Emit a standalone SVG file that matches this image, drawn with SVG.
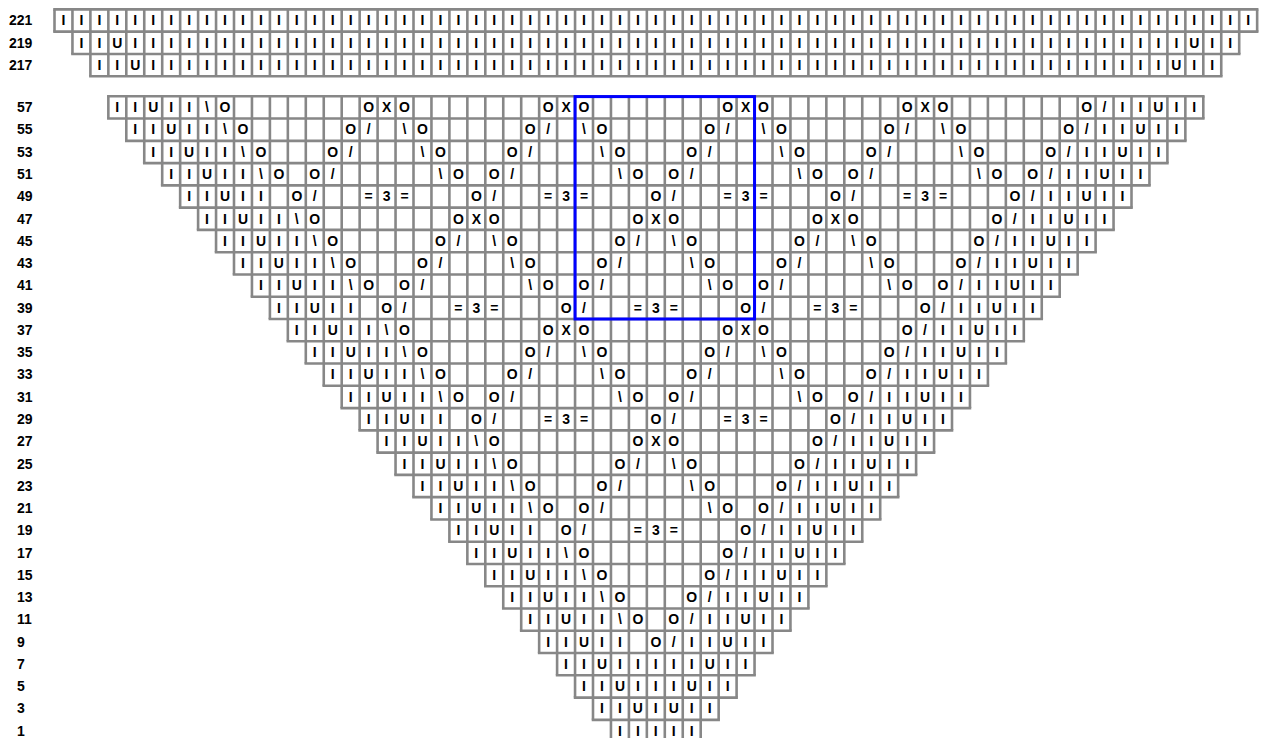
<svg xmlns="http://www.w3.org/2000/svg" width="1268" height="738" viewBox="0 0 1268 738">
<style>
.h{fill:none;stroke:#878787;stroke-width:2.6;stroke-linecap:square}
.v{fill:none;stroke:#878787;stroke-width:22.27;stroke-dasharray:2.6 15.4}
text{font-family:"Liberation Sans",Arial,Helvetica,sans-serif;font-weight:bold;font-size:14px;fill:#000}
.c{text-anchor:middle}
.rep{fill:none;stroke:#0000ff;stroke-width:3}
</style>
<rect width="1268" height="738" fill="#fff"/>
<g id="row-labels" transform="translate(0,0.7)">
<text x="9" y="24.6">221</text>
<text x="9" y="46.87">219</text>
<text x="9" y="69.14">217</text>
<text x="17" y="111.5">57</text>
<text x="17" y="133.77">55</text>
<text x="17" y="156.04">53</text>
<text x="17" y="178.31">51</text>
<text x="17" y="200.58">49</text>
<text x="17" y="222.85">47</text>
<text x="17" y="245.12">45</text>
<text x="17" y="267.39">43</text>
<text x="17" y="289.66">41</text>
<text x="17" y="311.93">39</text>
<text x="17" y="334.2">37</text>
<text x="17" y="356.47">35</text>
<text x="17" y="378.74">33</text>
<text x="17" y="401.01">31</text>
<text x="17" y="423.28">29</text>
<text x="17" y="445.55">27</text>
<text x="17" y="467.82">25</text>
<text x="17" y="490.09">23</text>
<text x="17" y="512.36">21</text>
<text x="17" y="534.63">19</text>
<text x="17" y="556.9">17</text>
<text x="17" y="579.17">15</text>
<text x="17" y="601.44">13</text>
<text x="17" y="623.71">11</text>
<text x="17" y="645.98">9</text>
<text x="17" y="668.25">7</text>
<text x="17" y="690.52">5</text>
<text x="17" y="712.79">3</text>
<text x="17" y="735.06">1</text>
</g>
<g id="chart" transform="matrix(0.997222 0 0 1 54.5 0)">
<g id="grid-top">
<path class="v" d="M-1.3 20.535H1207.3M16.7 42.805H1189.3M34.7 65.075H1171.3"/>
<path class="h" d="M0 9.4H1206M0 31.67H1206M18 53.94H1188M36 76.21H1170"/>
</g>
<g id="grid-main">
<path class="v" d="M52.7 107.435H1153.3M70.7 129.705H1135.3M88.7 151.975H1117.3M106.7 174.245H1099.3M124.7 196.515H1081.3M142.7 218.785H1063.3M160.7 241.055H1045.3M178.7 263.325H1027.3M196.7 285.595H1009.3M214.7 307.865H991.3M232.7 330.135H973.3M250.7 352.405H955.3M268.7 374.675H937.3M286.7 396.945H919.3M304.7 419.215H901.3M322.7 441.485H883.3M340.7 463.755H865.3M358.7 486.025H847.3M376.7 508.295H829.3M394.7 530.565H811.3M412.7 552.835H793.3M430.7 575.105H775.3M448.7 597.375H757.3M466.7 619.645H739.3M484.7 641.915H721.3M502.7 664.185H703.3M520.7 686.455H685.3M538.7 708.725H667.3M556.7 730.995H649.3"/>
<path class="h" d="M54 96.3H1152M54 118.57H1152M72 140.84H1134M90 163.11H1116M108 185.38H1098M126 207.65H1080M144 229.92H1062M162 252.19H1044M180 274.46H1026M198 296.73H1008M216 319H990M234 341.27H972M252 363.54H954M270 385.81H936M288 408.08H918M306 430.35H900M324 452.62H882M342 474.89H864M360 497.16H846M378 519.43H828M396 541.7H810M414 563.97H792M432 586.24H774M450 608.51H756M468 630.78H738M486 653.05H720M504 675.32H702M522 697.59H684M540 719.86H666M558 742.13H648"/>
</g>
<g id="symbols-top" transform="translate(0,0.7)">
<text class="c" y="24.6"><tspan x="9 27 45 63 81 99 117 135 153 171">IIIIIIIIII</tspan><tspan x="189 207 225 243 261 279 297 315 333 351">IIIIIIIIII</tspan><tspan x="369 387 405 423 441 459 477 495 513 531">IIIIIIIIII</tspan><tspan x="549 567 585 603 621 639 657 675 693 711">IIIIIIIIII</tspan><tspan x="729 747 765 783 801 819 837 855 873 891">IIIIIIIIII</tspan><tspan x="909 927 945 963 981 999 1017 1035 1053 1071">IIIIIIIIII</tspan><tspan x="1089 1107 1125 1143 1161 1179 1197">IIIIIII</tspan></text>
<text class="c" y="46.87"><tspan x="27 45 63 81 99 117 135 153 171">IIUIIIIII</tspan><tspan x="189 207 225 243 261 279 297 315 333 351">IIIIIIIIII</tspan><tspan x="369 387 405 423 441 459 477 495 513 531">IIIIIIIIII</tspan><tspan x="549 567 585 603 621 639 657 675 693 711">IIIIIIIIII</tspan><tspan x="729 747 765 783 801 819 837 855 873 891">IIIIIIIIII</tspan><tspan x="909 927 945 963 981 999 1017 1035 1053 1071">IIIIIIIIII</tspan><tspan x="1089 1107 1125 1143 1161 1179">IIIUII</tspan></text>
<text class="c" y="69.14"><tspan x="45 63 81 99 117 135 153 171">IIUIIIII</tspan><tspan x="189 207 225 243 261 279 297 315 333 351">IIIIIIIIII</tspan><tspan x="369 387 405 423 441 459 477 495 513 531">IIIIIIIIII</tspan><tspan x="549 567 585 603 621 639 657 675 693 711">IIIIIIIIII</tspan><tspan x="729 747 765 783 801 819 837 855 873 891">IIIIIIIIII</tspan><tspan x="909 927 945 963 981 999 1017 1035 1053 1071">IIIIIIIIII</tspan><tspan x="1089 1107 1125 1143 1161">IIUII</tspan></text>
</g>
<g id="symbols-main" transform="translate(0,0.7)">
<text class="c" y="111.5" x="63 81 99 117 135 153 171 315 333 351 495 513 531 675 693 711 855 873 891 1035 1053 1071 1089 1107 1125 1143">IIUII\OOXOOXOOXOOXOO/IIUII</text>
<text class="c" y="133.77" x="81 99 117 135 153 171 189 297 315 351 369 477 495 531 549 657 675 711 729 837 855 891 909 1017 1035 1053 1071 1089 1107 1125">IIUII\OO/\OO/\OO/\OO/\OO/IIUII</text>
<text class="c" y="156.04" x="99 117 135 153 171 189 207 279 297 369 387 459 477 549 567 639 657 729 747 819 837 909 927 999 1017 1035 1053 1071 1089 1107">IIUII\OO/\OO/\OO/\OO/\OO/IIUII</text>
<text class="c" y="178.31" x="117 135 153 171 189 207 225 261 279 387 405 441 459 567 585 621 639 747 765 801 819 927 945 981 999 1017 1035 1053 1071 1089">IIUII\OO/\OO/\OO/\OO/\OO/IIUII</text>
<text class="c" y="200.58" x="135 153 171 189 207 243 261 315 333 351 423 441 495 513 531 603 621 675 693 711 783 801 855 873 891 963 981 999 1017 1035 1053 1071">IIUIIO/=3=O/=3=O/=3=O/=3=O/IIUII</text>
<text class="c" y="222.85" x="153 171 189 207 225 243 261 405 423 441 585 603 621 765 783 801 945 963 981 999 1017 1035 1053">IIUII\OOXOOXOOXOO/IIUII</text>
<text class="c" y="245.12" x="171 189 207 225 243 261 279 387 405 441 459 567 585 621 639 747 765 801 819 927 945 963 981 999 1017 1035">IIUII\OO/\OO/\OO/\OO/IIUII</text>
<text class="c" y="267.39" x="189 207 225 243 261 279 297 369 387 459 477 549 567 639 657 729 747 819 837 909 927 945 963 981 999 1017">IIUII\OO/\OO/\OO/\OO/IIUII</text>
<text class="c" y="289.66" x="207 225 243 261 279 297 315 351 369 477 495 531 549 657 675 711 729 837 855 891 909 927 945 963 981 999">IIUII\OO/\OO/\OO/\OO/IIUII</text>
<text class="c" y="311.93" x="225 243 261 279 297 333 351 405 423 441 513 531 585 603 621 693 711 765 783 801 873 891 909 927 945 963 981">IIUIIO/=3=O/=3=O/=3=O/IIUII</text>
<text class="c" y="334.2" x="243 261 279 297 315 333 351 495 513 531 675 693 711 855 873 891 909 927 945 963">IIUII\OOXOOXOO/IIUII</text>
<text class="c" y="356.47" x="261 279 297 315 333 351 369 477 495 531 549 657 675 711 729 837 855 873 891 909 927 945">IIUII\OO/\OO/\OO/IIUII</text>
<text class="c" y="378.74" x="279 297 315 333 351 369 387 459 477 549 567 639 657 729 747 819 837 855 873 891 909 927">IIUII\OO/\OO/\OO/IIUII</text>
<text class="c" y="401.01" x="297 315 333 351 369 387 405 441 459 567 585 621 639 747 765 801 819 837 855 873 891 909">IIUII\OO/\OO/\OO/IIUII</text>
<text class="c" y="423.28" x="315 333 351 369 387 423 441 495 513 531 603 621 675 693 711 783 801 819 837 855 873 891">IIUIIO/=3=O/=3=O/IIUII</text>
<text class="c" y="445.55" x="333 351 369 387 405 423 441 585 603 621 765 783 801 819 837 855 873">IIUII\OOXOO/IIUII</text>
<text class="c" y="467.82" x="351 369 387 405 423 441 459 567 585 621 639 747 765 783 801 819 837 855">IIUII\OO/\OO/IIUII</text>
<text class="c" y="490.09" x="369 387 405 423 441 459 477 549 567 639 657 729 747 765 783 801 819 837">IIUII\OO/\OO/IIUII</text>
<text class="c" y="512.36" x="387 405 423 441 459 477 495 531 549 657 675 711 729 747 765 783 801 819">IIUII\OO/\OO/IIUII</text>
<text class="c" y="534.63" x="405 423 441 459 477 513 531 585 603 621 693 711 729 747 765 783 801">IIUIIO/=3=O/IIUII</text>
<text class="c" y="556.9" x="423 441 459 477 495 513 531 675 693 711 729 747 765 783">IIUII\OO/IIUII</text>
<text class="c" y="579.17" x="441 459 477 495 513 531 549 657 675 693 711 729 747 765">IIUII\OO/IIUII</text>
<text class="c" y="601.44" x="459 477 495 513 531 549 567 639 657 675 693 711 729 747">IIUII\OO/IIUII</text>
<text class="c" y="623.71" x="477 495 513 531 549 567 585 621 639 657 675 693 711 729">IIUII\OO/IIUII</text>
<text class="c" y="645.98" x="495 513 531 549 567 603 621 639 657 675 693 711">IIUIIO/IIUII</text>
<text class="c" y="668.25" x="513 531 549 567 585 603 621 639 657 675 693">IIUIIIIIUII</text>
<text class="c" y="690.52" x="531 549 567 585 603 621 639 657 675">IIUIIIUII</text>
<text class="c" y="712.79" x="549 567 585 603 621 639 657">IIUIUII</text>
<text class="c" y="735.06" x="567 585 603 621 639">IIIII</text>
</g>
<rect id="repeat-box" class="rep" x="522" y="96.6" width="180" height="222.4"/>
</g>
</svg>
